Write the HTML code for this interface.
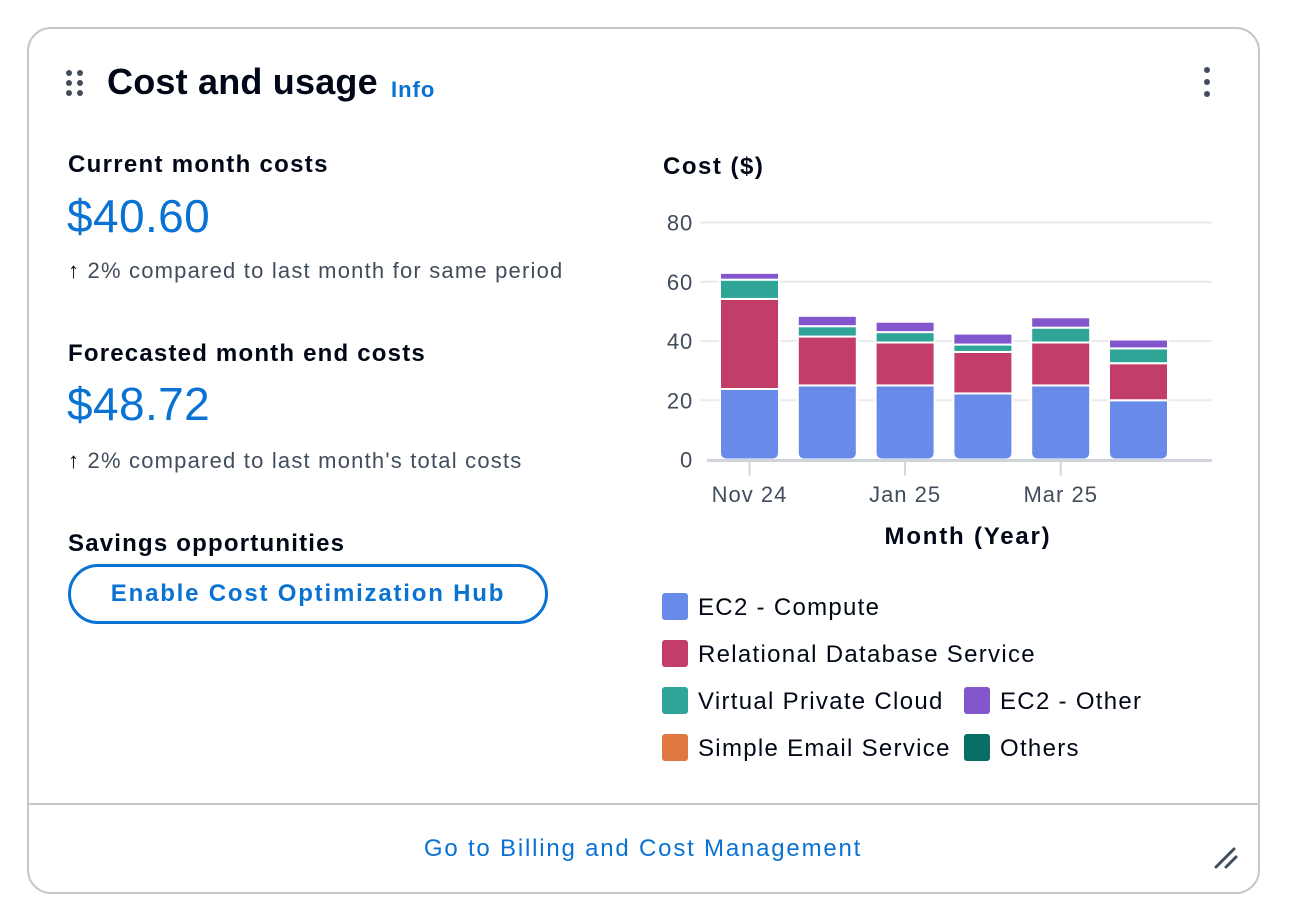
<!DOCTYPE html>
<html><head><meta charset="utf-8"><style>
body{margin:0;width:1292px;height:916px;background:#fff;font-family:"Liberation Sans",sans-serif;position:relative;overflow:hidden}
.a{position:absolute;white-space:nowrap}
.sm{font-size:22px;letter-spacing:1.2px;color:#414d5c}
.lb{font-size:24px;font-weight:bold;color:#000716;letter-spacing:1.2px}
</style></head><body>
<div class="a" style="left:27px;top:27px;width:1229px;height:863px;border:2px solid #c6c6cd;border-radius:24px"></div>
<div class="a" style="left:29px;top:803px;width:1229px;height:2px;background:#c6c6cd"></div>
<svg class="a" style="left:64px;top:68px" width="22" height="32"><g fill="#414d5c"><circle cx="5" cy="5" r="3"/><circle cx="16" cy="5" r="3"/><circle cx="5" cy="15" r="3"/><circle cx="16" cy="15" r="3"/><circle cx="5" cy="25" r="3"/><circle cx="16" cy="25" r="3"/></g></svg>
<div class="a" style="left:107px;top:61px;font-size:36px;font-weight:bold;color:#000716;letter-spacing:0.2px">Cost and usage</div>
<div class="a" style="left:391px;top:77px;font-size:22px;font-weight:bold;color:#0972d3;letter-spacing:1px">Info</div>
<svg class="a" style="left:1198px;top:64px" width="18" height="36"><g fill="#414d5c"><circle cx="9" cy="6" r="3"/><circle cx="9" cy="18" r="3"/><circle cx="9" cy="30" r="3"/></g></svg>

<div class="a lb" style="left:68px;top:151px;letter-spacing:1.3px">Current month costs</div>
<div class="a" style="left:67px;top:189px;font-size:46px;color:#0972d3;letter-spacing:0.4px">$40.60</div>
<div class="a sm" style="left:68px;top:258px"><b style="color:#000716">↑</b> 2% compared to last month for same period</div>
<div class="a lb" style="left:68px;top:340px">Forecasted month end costs</div>
<div class="a" style="left:67px;top:377px;font-size:46px;color:#0972d3;letter-spacing:0.4px">$48.72</div>
<div class="a sm" style="left:68px;top:448px"><b style="color:#000716">↑</b> 2% compared to last month's total costs</div>
<div class="a lb" style="left:68px;top:530px">Savings opportunities</div>
<div class="a" style="left:68px;top:564px;width:474px;height:54px;border:3px solid #0972d3;border-radius:30px;text-align:center;line-height:54px;font-size:24px;font-weight:bold;color:#0972d3;letter-spacing:1.8px">Enable Cost Optimization Hub</div>

<div class="a" style="left:0;width:1286px;top:835px;text-align:center;font-size:24px;color:#0972d3;letter-spacing:1.8px">Go to Billing and Cost Management</div>
<svg class="a" style="left:1212px;top:843px" width="28" height="28"><g stroke="#414d5c" stroke-width="3" stroke-linecap="round"><line x1="4" y1="24" x2="22" y2="6"/><line x1="14" y1="24" x2="24" y2="14"/></g></svg>

<svg id="chart" class="a" style="left:0;top:0" width="1292" height="800"></svg>
<script>
const categories=["Nov 24","Dec 24","Jan 25","Feb 25","Mar 25","Apr 25"];
const tickLabels=["Nov 24","","Jan 25","","Mar 25",""];
const yTicks=[0,20,40,60,80];
const seriesNames=["EC2 - Compute","Relational Database Service","Virtual Private Cloud","EC2 - Other","Simple Email Service","Others"];
const seriesColors=["#688ae8","#c33d69","#2ea597","#8456ce","#e07941","#096f64"];
const ec2Compute=[23.8,25,25,22.3,25,20];
const rds=[30.4,16.5,14.5,14,14.5,12.5];
const vpc=[6.5,3.5,3.5,2.5,5,5];
const ec2Other=[2.3,3.5,3.5,3.7,3.5,3];
const ses=[0,0,0,0,0,0];
const others=[0,0,0,0,0,0];
const series=[ec2Compute,rds,vpc,ec2Other,ses,others];

const NS="http://www.w3.org/2000/svg";
const svg=document.getElementById('chart');
function mk(t,a,p){const e=document.createElementNS(NS,t);for(const k in a)e.setAttribute(k,a[k]);(p||svg).appendChild(e);return e;}
const y0=459.5,y80=222.5,plotL=700,plotR=1212;
const yS=v=>y0-(v/80)*(y0-y80);
const bandL=710,pitch=77.8,bw=59;
const xS=i=>bandL+10+i*pitch;

const yt=mk('text',{x:663,y:174,'font-size':24,'font-weight':'bold',fill:'#000716','letter-spacing':1.5});yt.textContent='Cost ($)';


yTicks.forEach(v=>{
  if(v>0){const g=mk('line',{x1:plotL,x2:plotR,y1:yS(v),y2:yS(v),stroke:'#e9ebed','stroke-width':2});
  
  }
  const t=mk('text',{x:693,y:yS(v)+8,'font-size':22,fill:'#414d5c','text-anchor':'end','letter-spacing':0.8});t.textContent=v;
  
  
});
categories.forEach((c,i)=>{
  let base=0;
  series.forEach((s,k)=>{
    const v=s[i];if(v<=0)return;
    const top=yS(base+v),bot=yS(base);
    const x=xS(i);
    let el;
    if(k===0){
      const r=7;
      el=mk('path',{d:`M${x},${top}H${x+bw}V${bot-r}Q${x+bw},${bot} ${x+bw-r},${bot}H${x+r}Q${x},${bot} ${x},${bot-r}Z`,fill:seriesColors[k],stroke:'#fff','stroke-width':2});
    } else {
      el=mk('rect',{x:x,y:top,width:bw,height:bot-top,fill:seriesColors[k],stroke:'#fff','stroke-width':2});
    }
    
    
    base+=v;
  });
  if(tickLabels[i]){
    const cx=xS(i)+bw/2;
    const tk=mk('line',{x1:cx,x2:cx,y1:y0+2,y2:y0+16,stroke:'#d1d5db','stroke-width':2});
    
    
    const t=mk('text',{x:cx,y:502,'font-size':22,fill:'#414d5c','text-anchor':'middle','letter-spacing':1});t.textContent=tickLabels[i];
    
    
  }
});
const ax=mk('line',{x1:707,x2:plotR,y1:y0+1,y2:y0+1,stroke:'#d1d5db','stroke-width':3});


const xt=mk('text',{x:968,y:544,'font-size':24,'font-weight':'bold',fill:'#000716','text-anchor':'middle','letter-spacing':1.8});xt.textContent='Month (Year)';


const legPos=[[662,593],[662,640],[662,687],[964,687],[662,734],[964,734]];
seriesNames.forEach((n,k)=>{
  const [lx,ly]=legPos[k];
  const g=mk('g',{});
  
  
  mk('rect',{x:lx,y:ly,width:26,height:27,rx:3,fill:seriesColors[k]},g);
  const t=mk('text',{x:lx+36,y:ly+22,'font-size':24,fill:'#000716','letter-spacing':1.3},g);t.textContent=n;
});
</script>
</body></html>
